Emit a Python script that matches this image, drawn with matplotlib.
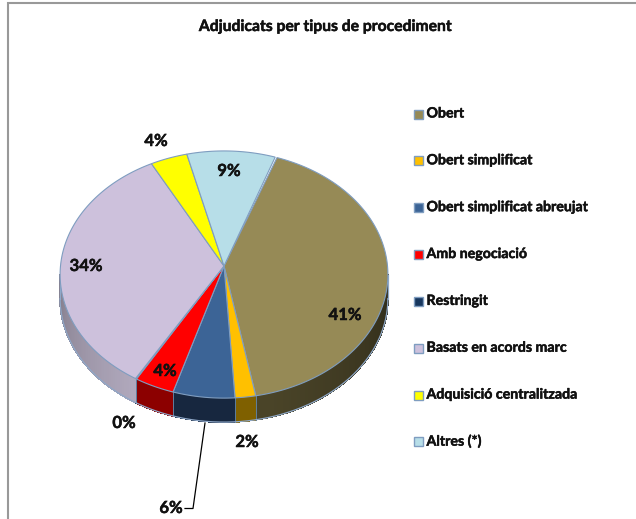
import numpy as np
import matplotlib
matplotlib.use("Agg")
import matplotlib.patheffects as pe
from matplotlib import pyplot as plt
from matplotlib.colors import to_rgb
from matplotlib.patches import Polygon

plt.rcParams['font.family'] = ['Lato', 'DejaVu Sans']

title = "Adjudicats per tipus de procediment"
categories = ["Obert", "Obert simplificat", "Obert simplificat abreujat", "Amb negociació",
              "Restringit", "Basats en acords marc", "Adquisició centralitzada", "Altres (*)"]
values = [41.49, 1.9, 5.7, 3.7, 0.1, 33.7, 3.9, 9.31]
top_colors = ["#968A56", "#FFC000", "#3C6496", "#FF0000", "#17375E", "#CDC1DC", "#FFFF00", "#B7DEE8"]
side_colors = ["#4A4428", "#7F6000", "#17273F", "#8C0000", "#17273F", "#B0A8BC", "#808000", "#7FA0A8"]

W, H = 636, 519
cx, cy = 224, 266     # where the slices meet
sx, sy, k = 163.5, 123, 0.069
depth = 24
start = 20.2
bold = [pe.withStroke(linewidth=0.35, foreground="#111111")]


def project(theta):
    # theta in degrees, clockwise from the top, slight perspective on the disc
    t = np.radians(theta)
    x, y = np.sin(t), np.cos(t)
    d = 1 + k * y
    return cx + sx * x / d, cy - sy * y / d


def wall_shade(t):
    # the wall gets darker towards both sides
    if t > 212:
        return 1 - 0.25 * (t - 212) / 54
    if t < 165:
        return 1 - 0.35 * (165 - t) / 71
    return 1.0


fig = plt.figure(figsize=(W / 100, H / 100), dpi=100)
ax = fig.add_axes([0, 0, 1, 1])
ax.set_xlim(0, W)
ax.set_ylim(H, 0)
ax.axis("off")

# chart frame, cut off at right and bottom
ax.plot([7.5, 7.5, W], [H, 3, 3], color="#999999", lw=1.5, solid_joinstyle="miter", zorder=1)

edges = start + np.cumsum([0] + values) * 3.6
slices = list(zip(edges[:-1], edges[1:], top_colors, side_colors))

# side wall
for a, b, col, side in slices:
    lo, hi = max(a, 94), min(b, 266)
    if hi <= lo:
        continue
    steps = np.linspace(lo, hi, max(2, int(hi - lo) + 2))
    base = np.array(to_rgb(side))
    for t0, t1 in zip(steps[:-1], steps[1:]):
        x0, y0 = project(t0)
        x1, y1 = project(t1)
        c = np.clip(base * wall_shade((t0 + t1) / 2), 0, 1)
        ax.add_patch(Polygon([(x0, y0), (x1, y1), (x1, y1 + depth), (x0, y0 + depth)],
                             facecolor=c, edgecolor=c, lw=0.6, antialiased=False, zorder=2))
    if lo > 94:
        x0, y0 = project(lo)
        ax.plot([x0, x0], [y0, y0 + depth], color="#5F7F9F", lw=0.7, zorder=3)

# outline under the wall
th = np.linspace(94, 266, 300)
x, y = project(th)
ax.plot(x, y + depth, color="#8FA8C8", lw=0.9, zorder=3)
ax.plot([x[0], x[0]], [y[0], y[0] + depth], color="#8FA8C8", lw=0.9, zorder=3)
ax.plot([x[-1], x[-1]], [y[-1], y[-1] + depth], color="#8FA8C8", lw=0.9, zorder=3)

# top face
for a, b, col, side in slices:
    th = np.linspace(a, b, max(2, int(b - a) * 2 + 2))
    x, y = project(th)
    pts = [(cx, cy)] + list(zip(x, y))
    ax.add_patch(Polygon(pts, closed=True, facecolor=col, edgecolor="#7F9DC0", lw=0.8, zorder=4))

# labels
label_pos = [(345, 315), (247, 442), (171, 508), (165, 371), (124, 423), (86, 266), (156, 141), (229, 171)]
for v, (lx, ly) in zip(values, label_pos):
    ax.text(lx, ly, "%d%%" % round(v), ha="center", va="center", fontsize=12, fontweight="bold",
            color="#111111", zorder=6, path_effects=bold)

# leader line of the 6% label
ax.plot([185, 193, 205], [508.5, 508.5, 423], color="black", lw=0.9, zorder=5)

ax.text(326, 27, title, ha="center", va="center", fontsize=11.3, fontweight="bold", color="#111111",
        path_effects=bold)

# legend
for i, (name, col) in enumerate(zip(categories, top_colors)):
    ly = 113.5 + i * 46.85
    ax.add_patch(Polygon([(414, ly - 4), (423, ly - 4), (423, ly + 5), (414, ly + 5)], closed=True,
                         facecolor=col, edgecolor="#7F9DC0", lw=1.0, zorder=3))
    ax.text(426.5, ly, name, ha="left", va="center", fontsize=10.2, fontweight="bold", color="#111111",
            path_effects=bold)

fig.savefig("out.png", dpi=100)
